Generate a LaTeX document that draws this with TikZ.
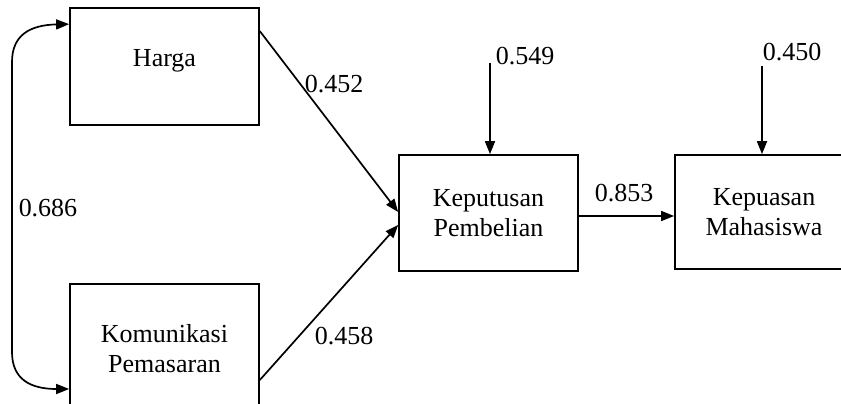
\documentclass[tikz,border=0pt]{standalone}
\usepackage{fontspec}
\setmainfont{Liberation Serif}
\usetikzlibrary{calc,arrows.meta}

\begin{document}
\begin{tikzpicture}[x=1pt, y=-1pt,
	box/.style={draw, line width=1.7pt, align=center, inner sep=0pt, font=\fontsize{26}{30}\selectfont},
	lbl/.style={font=\fontsize{26}{30}\selectfont, inner sep=0pt},
	arr/.style={line width=1.7pt, -{Triangle[length=13pt,width=10pt]}}]
			%%%%% START %%%%%
			\useasboundingbox (0, 0) rectangle (841, 404);
			\clip (0, 0) rectangle (841, 404);
			
			\node[box, minimum width=189pt, minimum height=117pt, text depth=18pt] (harga) at (164.5, 66.5) {Harga};
			\node[box, minimum width=189pt, minimum height=130pt] (kom) at (164.5, 349) {Komunikasi\\Pemasaran};
			\node[box, minimum width=179pt, minimum height=116pt] (kep) at (488.5, 213) {Keputusan\\Pembelian};
			\node[box, minimum width=178pt, minimum height=114pt] (mhs) at (764, 212) {Kepuasan\\Mahasiswa};
			
			\node[lbl] (e1) at (525, 56) {0.549};
			\node[lbl] (e2) at (792, 52) {0.450};
			
			\coordinate (e1top) at (490, 63);
			\coordinate (e2top) at (762, 66);
			
			\draw[arr] ($(harga.north east)+(0, 24)$) -- ($(kep.west)+(0, -1)$);
			\draw[arr] ($(kom.east)+(0, 31)$) -- ($(kep.west)+(0, 12)$);
			\draw[arr] (kep.east |- 0, 216) -- (mhs.west |- 0, 216);
			\draw[arr] (e1top) -- (e1top |- kep.north);
			\draw[arr] (e2top) -- (e2top |- mhs.north);
			
			\draw[arr, {Triangle[length=13pt,width=10pt]}-{Triangle[length=13pt,width=10pt]}] ($(harga.north west)+(0, 17)$) .. controls (30, 25) and (12, 35) .. (12, 62) -- (12, 352) .. controls (12, 379) and (30, 389) .. ($(kom.west)+(0, 40)$);
			
			\node[lbl] (r1) at (334, 84) {0.452};
			\node[lbl] (r2) at (344, 336) {0.458};
			\node[lbl] (r3) at (48, 208) {0.686};
			\node[lbl] (r4) at (624, 193) {0.853};
			
			%%%%% END %%%%%
\end{tikzpicture}
\end{document}
